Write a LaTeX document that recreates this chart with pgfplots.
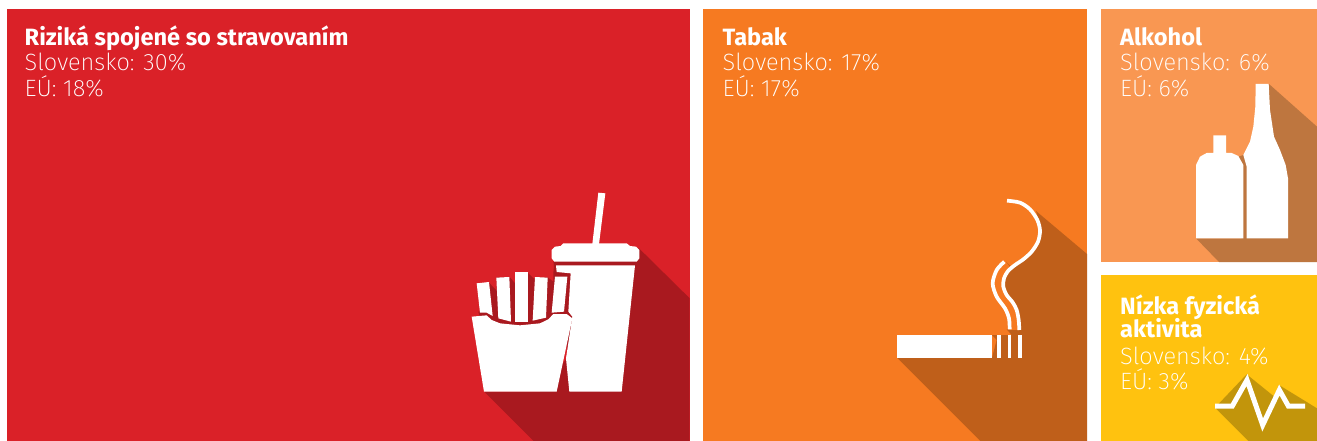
\documentclass[border=0pt]{standalone}
\usepackage{fontspec}
\setmainfont{Fira Sans}
\newfontfamily\lightf{Fira Sans ExtraLight}
\usepackage{pgfplots}
\pgfplotsset{compat=1.18}
\definecolor{cR}{HTML}{DA2128}
\definecolor{cRd}{HTML}{A9191F}
\definecolor{cO}{HTML}{F67A21}
\definecolor{cOd}{HTML}{BF5F1A}
\definecolor{cL}{HTML}{F99752}
\definecolor{cLd}{HTML}{BE763F}
\definecolor{cY}{HTML}{FFC20F}
\definecolor{cYd}{HTML}{C2950B}
\pgfplotsset{
 zA/.style={x filter/.expression={440+x/3},y filter/.expression={170+y/3}},
 zB/.style={x filter/.expression={880+x/3},y filter/.expression={180+y/3}},
 zC/.style={x filter/.expression={1095+x/3},y filter/.expression={y/3}},
 zD/.style={x filter/.expression={1095+x/3},y filter/.expression={265+y/3}},
 sh/.style={fill=#1,draw=none,forget plot},
 wh/.style={fill=white,draw=none,forget plot},
}
\tikzset{
 tb/.style={anchor=base west,inner sep=0pt,text=white,font=\fontsize{23.6}{24}\selectfont\bfseries},
 tl/.style={anchor=base west,inner sep=0pt,text=white,font=\lightf\fontsize{23.6}{24}\selectfont},
}
\begin{document}
\begin{tikzpicture}
\begin{axis}[scale only axis,width=1317pt,height=441pt,xmin=0,xmax=1317,ymin=0,ymax=441,y dir=reverse,axis lines=none,clip=true]
% white page
\addplot[wh] coordinates {(0,0)(1317,0)(1317,441)(0,441)} --cycle;
% treemap tiles
\addplot[sh=cR] coordinates {(7,9)(690,9)(690,441)(7,441)} --cycle;
\addplot[sh=cO] coordinates {(703,9)(1087,9)(1087,441)(703,441)} --cycle;
\addplot[sh=cL] coordinates {(1101,9)(1317,9)(1317,262)(1101,262)} --cycle;
\addplot[sh=cY] coordinates {(1101,275)(1317,275)(1317,441)(1101,441)} --cycle;
% food
\addplot[sh=cRd,zA] coordinates {(133,665)(281,813)(749,813)(749,385)(597,235)(340,275)(385,560)(300,665)} --cycle;
\addplot[sh=cRd,zA] coordinates {(147,338)(170,362)(170,322)(210,322)(225,340)(225,308)(263,308)(280,325)(323,322)(340,335)(340,310)(343,275)(600,275)(600,300)(397,445)(380,510)(135,510)(115,425)(140,425)} --cycle;
\addplot[wh,zA] coordinates {(475,68)(496,70)(477,222)(457,222)} --cycle;
\addplot[wh,zA] coordinates {(345,230)(362,228)(370,220)(560,220)(570,228)(588,230)(598,240)(598,265)(590,275)(343,275)(335,265)(335,240)} --cycle;
\addplot[wh,zA] coordinates {(348,286)(585,286)(545,665)(388,665)(378,565)(397,440)(385,425)(392,310)(350,306)} --cycle;
\addplot[wh,zA] coordinates {(110,340)(147,336)(158,438)(140,428)(120,428)} --cycle;
\addplot[wh,zA] coordinates {(169,323)(208,321)(213,455)(175,445)} --cycle;
\addplot[wh,zA] coordinates {(225,307)(265,307)(265,455)(225,455)} --cycle;
\addplot[wh,zA] coordinates {(285,321)(323,323)(318,443)(278,452)} --cycle;
\addplot[wh,zA] coordinates {(345,320)(382,320)(372,425)(335,428)} --cycle;
\addplot[wh,zA] coordinates {(95,440)(140,436)(155,450)(180,460)(240,466)(300,460)(325,448)(340,432)(380,432)(397,445)(350,665)(132,665)} --cycle;
% tobacco
\addplot[sh=cOd,zB] coordinates {(51,533)(301,783)(621,783)(621,222)(468,93)(485,150)(470,205)(430,240)(392,262)(378,245)(395,262)(370,300)(372,340)(400,375)(415,420)(415,450)(390,450)(380,448)(395,465)(336,465)(350,480)(336,533)} --cycle;
\addplot[wh,zB] coordinates {(51,465)(336,465)(336,533)(51,533)} --cycle;
\addplot[wh,zB] coordinates {(352,465)(363,465)(363,533)(352,533)} --cycle;
\addplot[wh,zB] coordinates {(383,465)(394,465)(394,533)(383,533)} --cycle;
\addplot[wh,zB] coordinates {(413,465)(425,465)(425,533)(413,533)} --cycle;
\addplot[white,line width=3.7pt,smooth,forget plot,zB] coordinates {(381,62)(420,68)(450,88)(472,120)(480,152)(474,185)(455,215)(430,238)(405,255)(385,272)(372,295)(370,320)(380,345)(398,367)(410,390)(416,420)(418,450)};
\addplot[white,line width=3.7pt,smooth,forget plot,zB] coordinates {(373,245)(350,270)(338,310)(350,350)(375,385)(387,415)(389,448)};
% alcohol
\addplot[sh=cLd,zC] coordinates {(303,715)(372,786)(666,786)(666,380)(522,252)(500,400)(445,465)(430,470)(440,715)} --cycle;
\addplot[wh,zC] coordinates {(355,406)(393,406)(393,459)(410,459)(430,468)(445,495)(445,715)(303,715)(303,495)(315,470)(335,459)(355,459)} --cycle;
\addplot[wh,zC] coordinates {(482,252)(521,252)(525,330)(537,410)(555,450)(572,495)(579,535)(579,715)(455,715)(455,500)(445,465)(465,425)(475,380)(481,320)} --cycle;
% activity
\addplot[sh=cYd,zD] coordinates {(360,428)(460,528)(666,528)(666,430)(552,360)(538,395)(455,328)} --cycle;
\addplot[white,line width=5pt,miter limit=10,forget plot,zD] coordinates {(360,423)(412,423)(456,345)(503,480)(553,375)(580,423)(630,423)};
% labels
\node[tb] at (axis cs:24.5,45.7) {Riziká spojené so stravovaním};
\node[tl] at (axis cs:24.5,71) {Slovensko: 30\%};
\node[tl] at (axis cs:24.5,96.7) {EÚ: 18\%};
\node[tb] at (axis cs:722.5,45.7) {Tabak};
\node[tl] at (axis cs:722.5,71) {Slovensko: 17\%};
\node[tl] at (axis cs:722.5,96.7) {EÚ: 17\%};
\node[tb] at (axis cs:1120,45.7) {Alkohol};
\node[tl] at (axis cs:1120,71) {Slovensko: 6\%};
\node[tl] at (axis cs:1120,96.7) {EÚ: 6\%};
\node[tb] at (axis cs:1120,314) {Nízka fyzická};
\node[tb] at (axis cs:1120,337) {aktivita};
\node[tl] at (axis cs:1120,364) {Slovensko: 4\%};
\node[tl] at (axis cs:1120,389.5) {EÚ: 3\%};
\end{axis}
\end{tikzpicture}
\end{document}
